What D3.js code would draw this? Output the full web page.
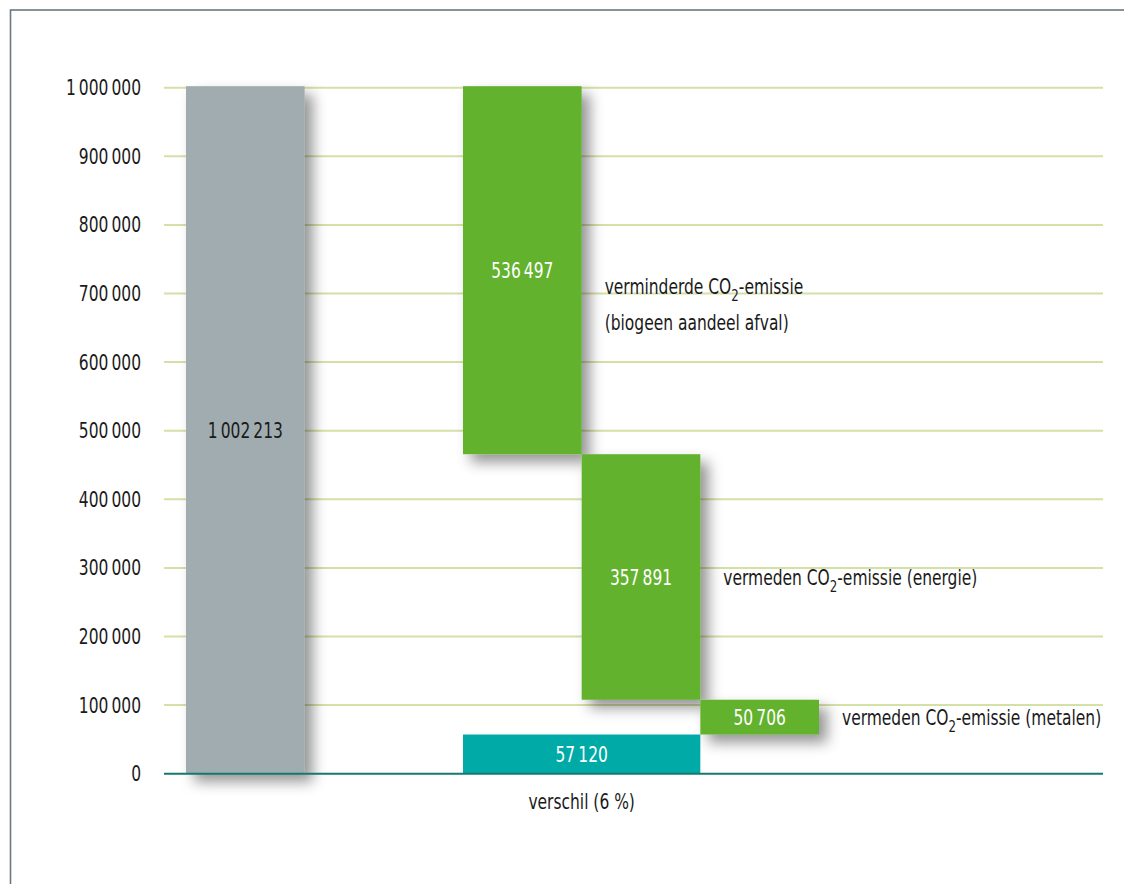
<!DOCTYPE html>
<html>
<head>
  <meta charset="utf-8">
  <style>
    body { margin: 0; background: #fff; }
    svg { display: block; font-family: "DejaVu Sans Condensed", "DejaVu Sans", sans-serif; }
  </style>
</head>
<body>
<svg width="1124" height="884"></svg>
<script src="https://d3js.org/d3.v7.min.js"></script>
<script>

// data
var startLabel = "totaal";
var startValue = 1002213;
var stepNames = ["biogeen", "energie", "metalen"];
var stepValues = [536497, 357891, 50706];
var stepText = [
  ["verminderde CO|2|-emissie", "(biogeen aandeel afval)"],
  ["vermeden CO|2|-emissie (energie)"],
  ["vermeden CO|2|-emissie (metalen)"]
];
var diffValue = 57120;
var diffText = "verschil (6 %)";
var yTicks = [0, 100000, 200000, 300000, 400000, 500000, 600000, 700000, 800000, 900000, 1000000];

var svg = d3.select("svg"),
    width = +svg.attr("width"),
    height = +svg.attr("height");

var nl = d3.formatLocale({decimal: ",", thousands: "\u2009", grouping: [3], currency: ["€", ""]});
var fmt = nl.format(",d");

var plotLeft = 164, plotRight = 1103;
var y = d3.scaleLinear().domain([0, 1000000]).range([773.7, 87.7]);
var xb = d3.scaleBand().domain(stepNames).range([463, 819]).padding(0);
var grayX = 186;

// fake a condensed face: squeeze text horizontally
var squeeze = 0.82, fs = 21;
function label(parent, x, yy, anchor, color) {
  return parent.append("text")
      .attr("transform", "translate(" + x + "," + yy + ") scale(" + squeeze + ",1)")
      .attr("dy", "0.36em")
      .attr("text-anchor", anchor)
      .attr("font-size", fs)
      .attr("fill", color);
}

// shadow
var defs = svg.append("defs");
var f = defs.append("filter").attr("id", "shadow")
    .attr("x", "-30%").attr("y", "-30%").attr("width", "170%").attr("height", "170%");
f.append("feDropShadow").attr("dx", 8).attr("dy", 8).attr("stdDeviation", 7)
    .attr("flood-color", "#000").attr("flood-opacity", 0.42);

// frame
svg.append("rect").attr("x", 10.5).attr("y", 10).attr("width", 1200).attr("height", 1000)
    .attr("fill", "none").attr("stroke", "#6b7880").attr("stroke-width", 1.6);

// grid
svg.append("g").selectAll("line")
  .data(yTicks.filter(function(d) { return d > 0; }))
  .enter().append("line")
    .attr("x1", plotLeft).attr("x2", plotRight)
    .attr("y1", function(d) { return y(d); }).attr("y2", function(d) { return y(d); })
    .attr("stroke", "#d3e0a6").attr("stroke-width", 2);

// y tick labels
var gy = svg.append("g");
yTicks.forEach(function(d) {
  label(gy, 141, y(d), "end", "#1a1a1a").text(fmt(d));
});

// waterfall steps
var level = startValue;
var steps = stepNames.map(function(n, i) {
  var s = {name: n, top: level, bottom: level - stepValues[i], value: stepValues[i], text: stepText[i]};
  level = s.bottom;
  return s;
});

var bars = svg.append("g").attr("filter", "url(#shadow)");

bars.append("rect")
    .attr("x", grayX).attr("width", xb.bandwidth())
    .attr("y", y(startValue)).attr("height", y(0) - y(startValue))
    .attr("fill", "#a0acb0");

bars.selectAll(".step")
  .data(steps)
  .enter().append("rect")
    .attr("class", "step")
    .attr("x", function(d) { return xb(d.name); })
    .attr("width", xb.bandwidth())
    .attr("y", function(d) { return y(d.top); })
    .attr("height", function(d) { return y(d.bottom) - y(d.top); })
    .attr("fill", "#64b22f");

// difference bar
var dx0 = xb(stepNames[0]), dx1 = xb(stepNames[1]) + xb.bandwidth();
svg.append("rect")
    .attr("x", dx0).attr("width", dx1 - dx0)
    .attr("y", y(diffValue)).attr("height", y(0) - y(diffValue))
    .attr("fill", "#00aaa7");

// baseline
svg.append("line")
    .attr("x1", plotLeft).attr("x2", plotRight)
    .attr("y1", y(0)).attr("y2", y(0))
    .attr("stroke", "#157a6e").attr("stroke-width", 2);

// value labels
var gl = svg.append("g");
label(gl, grayX + xb.bandwidth() / 2, (y(startValue) + y(0)) / 2, "middle", "#1a1a1a")
    .text(fmt(startValue));

steps.forEach(function(d) {
  label(gl, xb(d.name) + xb.bandwidth() / 2, (y(d.top) + y(d.bottom)) / 2, "middle", "#fff")
      .text(fmt(d.value));
});

label(gl, (dx0 + dx1) / 2, (y(diffValue) + y(0)) / 2, "middle", "#fff").text(fmt(diffValue));
label(gl, (dx0 + dx1) / 2, y(0) + 28, "middle", "#1a1a1a").text(diffText);

// step descriptions, text split on | for subscript
var lineGap = 36;
steps.forEach(function(d, i) {
  var cy = (y(d.top) + y(d.bottom)) / 2;
  var x = xb(d.name) + xb.bandwidth() + 23;
  if (i === 0) cy += 34;
  d.text.forEach(function(line, j) {
    var t = label(gl, x, cy + (j - (d.text.length - 1) / 2) * lineGap, "start", "#1a1a1a");
    line.split("|").forEach(function(part, k) {
      var ts = t.append("tspan").text(part);
      if (k === 1) ts.attr("font-size", 16).attr("dy", 7);
      if (k === 2) ts.attr("dy", -7);
    });
  });
});

</script>
</body>
</html>
